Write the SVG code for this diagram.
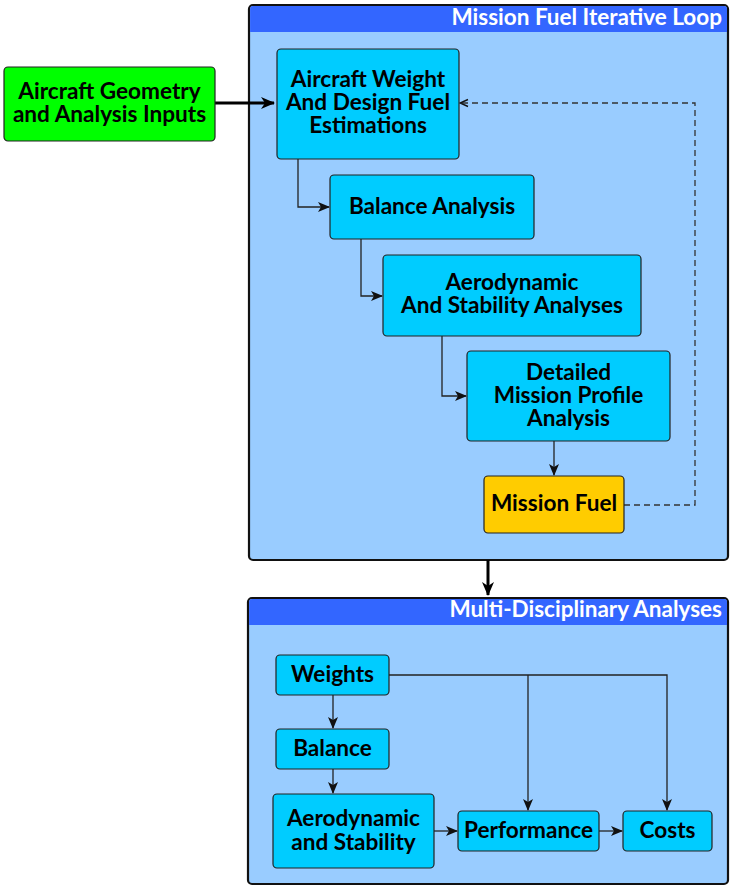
<svg xmlns="http://www.w3.org/2000/svg" width="730" height="886" viewBox="0 0 730 886">
  <defs>
    <marker id="arrow" viewBox="0 0 12 10" refX="11" refY="5" markerWidth="12" markerHeight="10" markerUnits="userSpaceOnUse" orient="auto">
      <path d="M0,0 L12,5 L0,10 L3,5 Z" fill="#111"/>
    </marker>
    <marker id="arrowBig" viewBox="0 0 14 12" refX="13" refY="6" markerWidth="14" markerHeight="12" markerUnits="userSpaceOnUse" orient="auto">
      <path d="M0,0 L14,6 L0,12 L4,6 Z" fill="#000"/>
    </marker>
    <marker id="arrowOpen" viewBox="0 0 10 10" refX="9" refY="5" markerWidth="10" markerHeight="10" markerUnits="userSpaceOnUse" orient="auto">
      <path d="M1,1.5 L9,5 L1,8.5" fill="none" stroke="#111" stroke-width="1.4"/>
    </marker>
  </defs>
  <style>
    .container { fill: #99CCFF; stroke: #111; stroke-width: 2.2; }
    .header { fill: #3366FF; }
    .title { font-family: Lato, "Liberation Sans", sans-serif; font-weight: bold; font-size: 22.5px; fill: #fff; text-anchor: end; }
    .node { fill: #00CCFF; stroke: #222; stroke-width: 1.2; }
    .input { fill: #00FF00; stroke: #222; stroke-width: 1.2; }
    .fuel { fill: #FFCC00; stroke: #222; stroke-width: 1.2; }
    .label { font-family: Lato, "Liberation Sans", sans-serif; font-weight: bold; font-size: 22.6px; fill: #000; text-anchor: middle; }
    .link { fill: none; stroke: #222; stroke-width: 1.3; }
    .thick { fill: none; stroke: #000; stroke-width: 3; }
    .dashed { fill: none; stroke: #333; stroke-width: 1.3; stroke-dasharray: 6 4; }
  </style>

  <!-- containers -->
  <g id="loop">
    <rect class="container" x="249" y="5" width="479" height="555" rx="4"/>
    <path class="header" d="M250.1,32 V9 a3,3 0 0 1 3,-3 H724 a3,3 0 0 1 3,3 V32 Z"/>
    <text class="title" x="722" y="25">Mission Fuel Iterative Loop</text>
  </g>
  <g id="mda">
    <rect class="container" x="248" y="598" width="480" height="286" rx="4"/>
    <path class="header" d="M249.1,625 V602 a3,3 0 0 1 3,-3 H724 a3,3 0 0 1 3,3 V625 Z"/>
    <text class="title" x="722" y="617">Multi-Disciplinary Analyses</text>
  </g>

  <!-- connectors -->
  <g id="connectors">
    <path class="thick" d="M215,103 H274" marker-end="url(#arrowBig)"/>
    <path class="thick" d="M488,560 V595" marker-end="url(#arrowBig)"/>
    <path class="link" d="M298,159 V207 H329" marker-end="url(#arrow)"/>
    <path class="link" d="M361,239 V296 H382" marker-end="url(#arrow)"/>
    <path class="link" d="M442,336 V396 H466" marker-end="url(#arrow)"/>
    <path class="link" d="M554,441 V475" marker-end="url(#arrow)"/>
    <path class="dashed" d="M624,505 H695 V103 H460" marker-end="url(#arrowOpen)"/>
    <path class="link" d="M333,695 V728" marker-end="url(#arrow)"/>
    <path class="link" d="M333,769 V793" marker-end="url(#arrow)"/>
    <path class="link" d="M389,675 H667 V810" marker-end="url(#arrow)"/>
    <path class="link" d="M528,675 V810" marker-end="url(#arrow)"/>
    <path class="link" d="M434,831 H457" marker-end="url(#arrow)"/>
    <path class="link" d="M599,831 H622" marker-end="url(#arrow)"/>
  </g>

  <!-- nodes -->
  <g id="inputs">
    <rect class="input" x="4" y="67" width="211" height="74" rx="4"/>
    <text class="label" x="109.5" y="99">Aircraft Geometry</text>
    <text class="label" x="109.5" y="122">and Analysis Inputs</text>
  </g>
  <g id="weight-estimation">
    <rect class="node" x="277" y="49" width="182" height="110" rx="4"/>
    <text class="label" x="368" y="87">Aircraft Weight</text>
    <text class="label" x="368" y="110">And Design Fuel</text>
    <text class="label" x="368" y="133">Estimations</text>
  </g>
  <g id="balance-analysis">
    <rect class="node" x="330" y="175" width="204" height="64" rx="4"/>
    <text class="label" x="432" y="214">Balance Analysis</text>
  </g>
  <g id="aero-stability">
    <rect class="node" x="383" y="255" width="258" height="81" rx="4"/>
    <text class="label" x="512" y="290">Aerodynamic</text>
    <text class="label" x="512" y="313">And Stability Analyses</text>
  </g>
  <g id="mission-profile">
    <rect class="node" x="467" y="351" width="203" height="90" rx="4"/>
    <text class="label" x="568.5" y="380">Detailed</text>
    <text class="label" x="568.5" y="403">Mission Profile</text>
    <text class="label" x="568.5" y="426">Analysis</text>
  </g>
  <g id="mission-fuel">
    <rect class="fuel" x="484" y="476" width="140" height="57" rx="4"/>
    <text class="label" x="554" y="511">Mission Fuel</text>
  </g>
  <g id="weights">
    <rect class="node" x="276" y="655" width="113" height="40" rx="4"/>
    <text class="label" x="332.5" y="682">Weights</text>
  </g>
  <g id="balance">
    <rect class="node" x="276" y="729" width="113" height="40" rx="4"/>
    <text class="label" x="332.5" y="756">Balance</text>
  </g>
  <g id="aerodynamic">
    <rect class="node" x="273" y="794" width="161" height="74" rx="4"/>
    <text class="label" x="353.5" y="826">Aerodynamic</text>
    <text class="label" x="353.5" y="850">and Stability</text>
  </g>
  <g id="performance">
    <rect class="node" x="458" y="811" width="141" height="40" rx="4"/>
    <text class="label" x="528.5" y="838">Performance</text>
  </g>
  <g id="costs">
    <rect class="node" x="623" y="811" width="89" height="40" rx="4"/>
    <text class="label" x="667.5" y="838">Costs</text>
  </g>
</svg>
